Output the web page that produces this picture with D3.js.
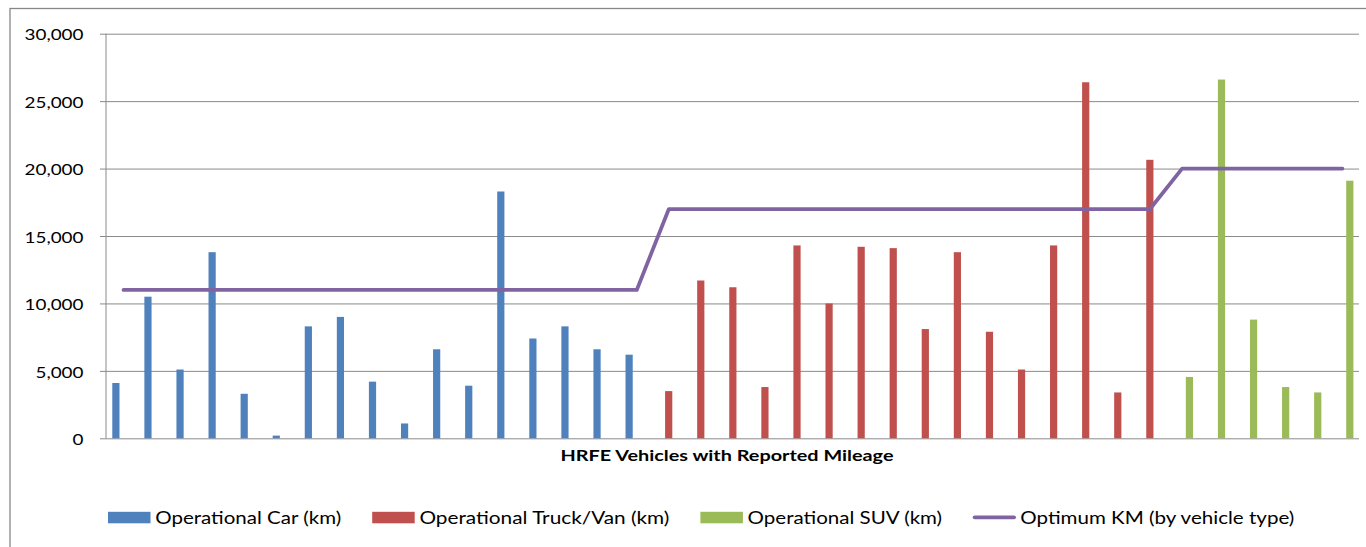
<!DOCTYPE html>
<html><head><meta charset="utf-8">
<script src="https://cdn.jsdelivr.net/npm/d3@7"></script>
<style>
html,body{margin:0;padding:0;background:#fff;overflow:hidden}
svg{display:block}
text{font-family:Lato,"Open Sans",sans-serif;fill:#000}
</style>
</head><body>
<svg id="chart" width="1366" height="547"></svg>
<script>
// ---- DATA ----
const vehicles = ["V01","V02","V03","V04","V05","V06","V07","V08","V09","V10",
  "V11","V12","V13","V14","V15","V16","V17","V18","V19","V20",
  "V21","V22","V23","V24","V25","V26","V27","V28","V29","V30",
  "V31","V32","V33","V34","V35","V36","V37","V38","V39"];
const vehicleType = ["car","car","car","car","car","car","car","car","car","car",
  "car","car","car","car","car","car","car",
  "truck","truck","truck","truck","truck","truck","truck","truck","truck","truck",
  "truck","truck","truck","truck","truck","truck",
  "suv","suv","suv","suv","suv","suv"];
const carKm   = [4100,10500,5100,13800,3300,200,8300,9000,4200,1100,6600,3900,18300,7400,8300,6600,6200];
const truckKm = [3500,11700,11200,3800,14300,10000,14200,14100,8100,13800,7900,5100,14300,26400,3400,20650];
const suvKm   = [4550,26600,8800,3800,3400,19100];
const optimumKm = [11000,11000,11000,11000,11000,11000,11000,11000,11000,11000,
  11000,11000,11000,11000,11000,11000,11000,
  17000,17000,17000,17000,17000,17000,17000,17000,17000,17000,
  17000,17000,17000,17000,17000,17000,
  20000,20000,20000,20000,20000,20000];
const yTicks = [0,5000,10000,15000,20000,25000,30000];
const seriesKeys = ["car","truck","suv"];
const seriesNames = ["Operational Car (km)","Operational Truck/Van (km)","Operational SUV (km)","Optimum KM (by vehicle type)"];
const xTitle = "HRFE Vehicles with Reported Mileage";

// ---- STYLE / LAYOUT ----
const colors = {car:"#4F81BD", truck:"#C0504D", suv:"#9BBB59", line:"#8064A2"};
const gridColor = "#8a8a8a";
const plot = {left:107.5, right:1358.5, top:33.7, bottom:438.3, gridLeft:100, gridRight:1359, axisX:106};
const barW = 7.5;

// build table
const counters = {car:0, truck:0, suv:0};
const src = {car:carKm, truck:truckKm, suv:suvKm};
const rows = vehicles.map((v,i)=>{
  const t = vehicleType[i];
  const r = {id:v, car:null, truck:null, suv:null, opt:optimumKm[i]};
  r[t] = src[t][counters[t]++];
  return r;
});

const svg = d3.select("#chart");

// outer chart border
svg.append("rect").attr("x",10).attr("y",8.5).attr("width",1500).attr("height",700)
  .attr("fill","none").attr("stroke","#878787").attr("stroke-width",1.3);

const x0 = d3.scaleBand().domain(vehicles).range([plot.left, plot.right]).padding(0);
const pOuter = (x0.bandwidth()/barW - 3)/2;
const x1 = d3.scaleBand().domain(seriesKeys).range([0, x0.bandwidth()]).paddingInner(0).paddingOuter(pOuter);
const y = d3.scaleLinear().domain([0,30000]).range([plot.bottom, plot.top]);

// gridlines + labels
const yAxis = d3.axisLeft(y).tickValues(yTicks).tickFormat(d3.format(","))
  .tickSizeInner(-(plot.gridRight-plot.gridLeft)).tickSizeOuter(0).tickPadding(16.5);
const gy = svg.append("g").attr("transform",`translate(${plot.gridLeft},0)`).call(yAxis);
gy.select(".domain").remove();
gy.selectAll(".tick line").attr("stroke",gridColor).attr("stroke-width",1);
gy.selectAll(".tick text").attr("font-size",16).attr("dy","0.39em")
  .style("font-family","Lato,'Open Sans',sans-serif").attr("fill","#000");
// horizontal stretch of tick labels to match reference widths
const refW = 59;
let nat30 = 0;
gy.selectAll(".tick text").each(function(d){ if(d===30000) nat30 = this.getComputedTextLength(); });
const kTick = refW / nat30;
gy.selectAll(".tick text").each(function(){
  const w = this.getComputedTextLength();
  d3.select(this).attr("textLength", w*kTick).attr("lengthAdjust","spacingAndGlyphs");
});

// vertical axis line
svg.append("line").attr("x1",plot.axisX).attr("x2",plot.axisX).attr("y1",plot.top).attr("y2",plot.bottom)
  .attr("stroke",gridColor).attr("stroke-width",1);

// bars
const gBars = svg.append("g");
seriesKeys.forEach(k=>{
  gBars.selectAll("rect."+k).data(rows.filter(r=>r[k]!==null)).join("rect")
    .attr("class",k)
    .attr("x",d=>x0(d.id)+x1(k))
    .attr("width",x1.bandwidth()-0.3)
    .attr("y",d=>y(d[k]))
    .attr("height",d=>y(0)-y(d[k]))
    .attr("fill",colors[k]);
});

// optimum line
const line = d3.line().x(d=>x0(d.id)+x0.bandwidth()/2).y(d=>y(d.opt));
svg.append("path").datum(rows).attr("d",line).attr("fill","none")
  .attr("stroke",colors.line).attr("stroke-width",3.75)
  .attr("stroke-linejoin","round").attr("stroke-linecap","round");

// x axis title
const tt = svg.append("text").attr("x",727).attr("y",461).attr("text-anchor","middle")
  .attr("font-size",16).attr("font-weight","bold").text(xTitle);
tt.attr("textLength",333).attr("lengthAdjust","spacingAndGlyphs");

// legend
const legendWidths = [186,250,194.5,274];
const swW = 42.5, swGap = 4.7, itemGap = 31;
let lx = 108;
const legKeys = ["car","truck","suv","line"];
const gLeg = svg.append("g");
legKeys.forEach((k,i)=>{
  if(k==="line"){
    gLeg.append("line").attr("x1",lx+1.5).attr("x2",lx+swW-1.5).attr("y1",517.3).attr("y2",517.3)
      .attr("stroke",colors.line).attr("stroke-width",3.75).attr("stroke-linecap","round");
  } else {
    gLeg.append("rect").attr("x",lx).attr("y",511.8).attr("width",swW).attr("height",11.5).attr("fill",colors[k]);
  }
  const tx = lx + swW + swGap;
  gLeg.append("text").attr("x",tx).attr("y",524).attr("font-size",17.5)
    .attr("textLength",legendWidths[i]).attr("lengthAdjust","spacingAndGlyphs").text(seriesNames[i]);
  lx = tx + legendWidths[i] + itemGap;
});
</script>
</body></html>
